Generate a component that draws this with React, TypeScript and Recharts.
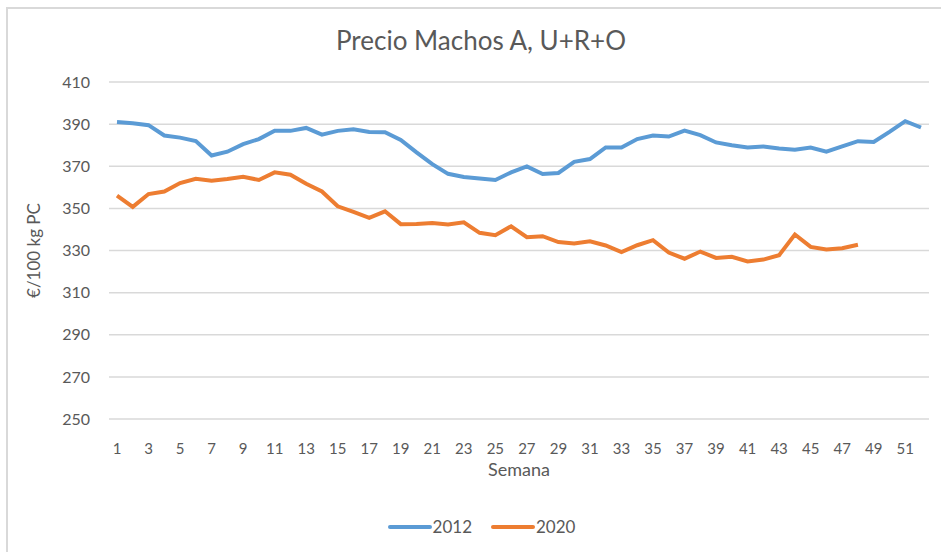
import { LineChart, Line, XAxis, YAxis, CartesianGrid, Legend } from "recharts"

// Semana 1..52
const weeks = Array.from({ length: 52 }, (_, i) => String(i + 1))

// €/100 kg PC, 2012
const precio2012 = [
  391, 390.4, 389.5, 384.6, 383.6, 382, 375.1, 376.9, 380.5, 382.9,
  386.9, 386.8, 388.2, 385, 386.8, 387.6, 386.3, 386.2, 382.5, 376.6,
  371, 366.4, 364.9, 364.2, 363.5, 367.1, 369.9, 366.3, 366.8, 372.1,
  373.4, 378.9, 378.9, 382.9, 384.6, 384.1, 386.9, 384.8, 381.3, 380,
  378.9, 379.4, 378.4, 377.8, 378.9, 376.9, 379.4, 381.9, 381.5, 386.3,
  391.4, 388.4,
]

// €/100 kg PC, 2020 (hasta semana 48)
const precio2020 = [
  356, 350.7, 356.8, 358, 362, 364, 363.1, 363.9, 365, 363.5,
  367.1, 366, 361.7, 358, 351, 348.3, 345.5, 348.6, 342.5, 342.6,
  343.1, 342.3, 343.4, 338.4, 337.3, 341.5, 336.3, 336.8, 334, 333.3,
  334.4, 332.4, 329.2, 332.5, 334.9, 329, 326.1, 329.5, 326.5, 327,
  324.8, 325.7, 327.8, 337.6, 331.7, 330.5, 331.1, 332.7,
]

const yTicks = [250, 270, 290, 310, 330, 350, 370, 390, 410]

const data = weeks.map((w, i) => ({
  semana: w,
  "2012": precio2012[i],
  "2020": precio2020[i] ?? null,
}))

const textColor = "#595959"
const font = "Lato, 'Liberation Sans', sans-serif"

const renderLegend = (props: any) => {
  const { payload } = props
  return (
    <div style={{ display: "flex", justifyContent: "center", gap: 18, fontFamily: font }}>
      {payload.map((entry: any) => (
        <div key={entry.value} style={{ display: "flex", alignItems: "center" }}>
          <svg width={46} height={10}>
            <line x1={3} y1={5} x2={43} y2={5} stroke={entry.color} strokeWidth={4} strokeLinecap="round" />
          </svg>
          <span style={{ color: textColor, fontSize: 17 }}>{entry.value}</span>
        </div>
      ))}
    </div>
  )
}

export default function App() {
  return (
    <div style={{ position: "absolute", left: 0, top: 0, width: 941, height: 552, background: "#fff" }}>
      <div
        style={{
          position: "absolute",
          left: 6,
          top: 7,
          width: 935,
          height: 545,
          borderLeft: "2px solid #d9d9d9",
          borderTop: "2px solid #d9d9d9",
          boxSizing: "border-box",
        }}
      />
      <LineChart
        width={941}
        height={552}
        data={data}
        margin={{ top: 82, right: 12, left: 29, bottom: 50 }}
        style={{ position: "absolute", left: 0, top: 0 }}
      >
        <text
          x={481}
          y={43}
          textAnchor="middle"
          dominantBaseline="middle"
          fill={textColor}
          fontSize={26}
          fontFamily={font}
        >
          Precio Machos A, U+R+O
        </text>
        <CartesianGrid vertical={false} stroke="#d9d9d9" strokeWidth={1.5} />
        <XAxis
          dataKey="semana"
          interval={1}
          padding={{ left: 8, right: 8 }}
          axisLine={false}
          tickLine={false}
          tickMargin={18}
          height={62}
          tick={{ fill: textColor, fontSize: 15, fontFamily: font }}
          label={{
            value: "Semana",
            position: "insideBottom",
            offset: 5,
            fill: textColor,
            fontSize: 18,
            fontFamily: font,
          }}
        />
        <YAxis
          domain={[250, 410]}
          ticks={yTicks}
          interval={0}
          axisLine={false}
          tickLine={false}
          tickMargin={13}
          width={80}
          tick={{ fill: textColor, fontSize: 16, fontFamily: font }}
          label={{
            value: "€/100 kg PC",
            angle: -90,
            position: "insideLeft",
            offset: 5,
            fill: textColor,
            fontSize: 17,
            fontFamily: font,
            style: { textAnchor: "middle" },
          }}
        />
        <Legend
          content={renderLegend}
          wrapperStyle={{ position: "absolute", left: 0, width: 962, top: 516 }}
        />
        <Line
          type="linear"
          dataKey="2012"
          stroke="#5b9bd5"
          strokeWidth={4}
          dot={false}
          isAnimationActive={false}
        />
        <Line
          type="linear"
          dataKey="2020"
          stroke="#ed7d31"
          strokeWidth={4}
          dot={false}
          connectNulls={false}
          isAnimationActive={false}
        />
      </LineChart>
    </div>
  )
}
